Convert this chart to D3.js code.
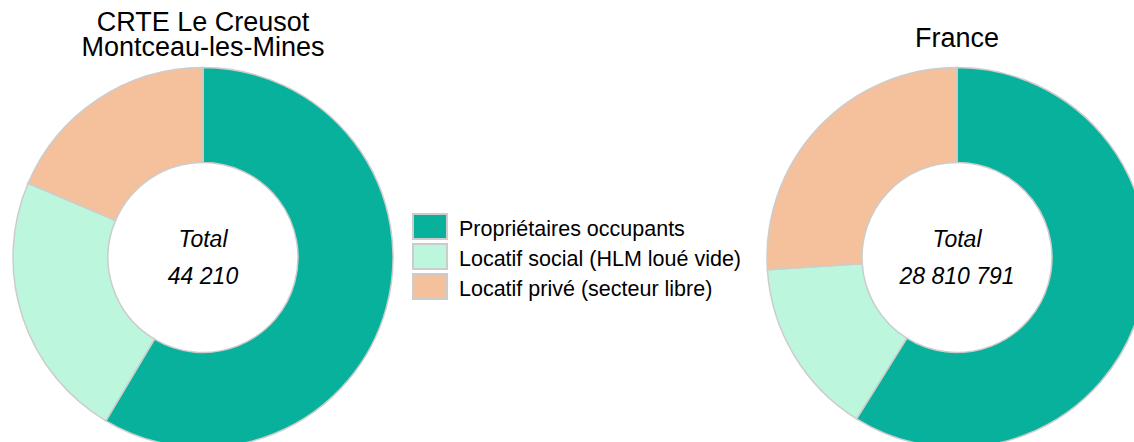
<!DOCTYPE html>
<html>
<head>
<meta charset="utf-8">
<script src="https://cdn.jsdelivr.net/npm/d3@7"></script>
<style>
    body { margin: 0; background: #fff; }
    svg { display: block; font-family: "Liberation Sans", Arial, Helvetica, sans-serif; }
</style>
</head>
<body>
<div id="chart"></div>
<script>
var categories = ["Propriétaires occupants", "Locatif social (HLM loué vide)", "Locatif privé (secteur libre)"];
var colors = ["#07b19c", "#bcf6dc", "#f5c09c"];

var territoryTitle = ["CRTE Le Creusot", "Montceau-les-Mines"];
var territoryValues = [25880, 10100, 8230];

var franceTitle = ["France"];
var franceValues = [16958000, 4353000, 7499791];

(function() {
    var width = 1134, height = 442;
    var outerR = 190, innerR = 95;

    var fr = d3.formatLocale({decimal: ",", thousands: " ", grouping: [3], currency: ["", " €"]});
    var fmt = fr.format(",d");

    var svg = d3.select("#chart").append("svg")
        .attr("width", width)
        .attr("height", height);

    var color = d3.scaleOrdinal().domain(categories).range(colors);

    var pie = d3.pie().sort(null).value(d => d.value);
    var arc = d3.arc().innerRadius(innerR).outerRadius(outerR);

    function drawDonut(cx, cy, titleLines, titleY, values) {
        var data = categories.map(function(c, i) { return {cat: c, value: values[i]}; });

        var g = svg.append("g")
            .attr("transform", "translate(" + cx + "," + cy + ")");

        g.selectAll("path")
            .data(pie(data))
            .enter().append("path")
            .attr("d", arc)
            .style("fill", d => color(d.data.cat))
            .style("stroke", "#cccccc")
            .style("stroke-width", 1.5);

        // title, one line per entry
        svg.append("g").selectAll("text")
            .data(titleLines)
            .enter().append("text")
            .attr("x", cx)
            .attr("y", (d, i) => titleY + i * 25)
            .attr("text-anchor", "middle")
            .style("font-size", "27px")
            .text(d => d);

        g.append("text")
            .attr("y", -11)
            .attr("text-anchor", "middle")
            .style("font-size", "23px")
            .style("font-style", "italic")
            .text("Total");

        g.append("text")
            .attr("y", 26.5)
            .attr("text-anchor", "middle")
            .style("font-size", "23px")
            .style("font-style", "italic")
            .text(fmt(d3.sum(values)));
    }

    drawDonut(203, 257.5, territoryTitle, 31, territoryValues);
    drawDonut(957, 257.5, franceTitle, 47, franceValues);

    var legend = svg.append("g")
        .attr("transform", "translate(412,214)");

    var rows = legend.selectAll("g")
        .data(categories)
        .enter().append("g")
        .attr("transform", (d, i) => "translate(0," + (i * 30) + ")");

    rows.append("rect")
        .attr("x", 1)
        .attr("y", 0)
        .attr("width", 34)
        .attr("height", 25)
        .style("fill", d => color(d))
        .style("stroke", "#cccccc")
        .style("stroke-width", 2);

    rows.append("text")
        .attr("x", 47)
        .attr("y", 22)
        .style("font-size", "21.5px")
        .text(d => d);
})();
</script>
</body>
</html>
